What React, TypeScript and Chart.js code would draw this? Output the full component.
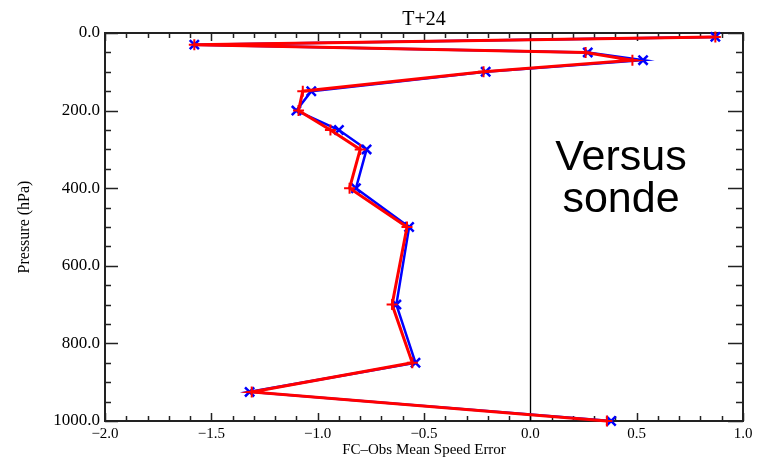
import React, { useEffect, useRef } from 'react';
import { Chart, registerables } from 'chart.js';

Chart.register(...registerables);

// ---- data ----
const pressureLevels = [10, 30, 50, 70, 100, 150, 200, 250, 300, 400, 500, 700, 850, 925, 1000];
const errorBlue = [0.87, -1.58, 0.27, 0.53, -0.21, -1.03, -1.1, -0.9, -0.77, -0.82, -0.57, -0.63, -0.54, -1.32, 0.38];
const errorRed = [0.87, -1.58, 0.26, 0.48, -0.22, -1.07, -1.09, -0.94, -0.8, -0.85, -0.58, -0.65, -0.555, -1.31, 0.36];
const xTickValues = [-2.0, -1.5, -1.0, -0.5, 0.0, 0.5, 1.0];
const yTickValues = [0, 200, 400, 600, 800, 1000];
const chartTitle = 'T+24';
const xAxisTitle = 'FC\u2013Obs Mean Speed Error';
const yAxisTitle = 'Pressure (hPa)';
const noteLines = ['Versus', 'sonde'];

const SERIF = '"Liberation Serif", "DejaVu Serif", serif';
const SANS = '"Liberation Sans", Arial, sans-serif';

const fmtX = (v: number) => {
  const s = Math.abs(v).toFixed(1);
  return v < -1e-9 ? '\u2212' + s : s;
};

const framePlugin = {
  id: 'frameTicks',
  beforeDatasetsDraw(chart: any) {
    const { ctx, chartArea, scales } = chart;
    const { left, right, top, bottom } = chartArea;
    const xs = scales.x;
    const ys = scales.y;
    ctx.save();
    ctx.strokeStyle = '#222';
    ctx.lineWidth = 2;
    ctx.strokeRect(left, top, right - left, bottom - top);
    ctx.lineWidth = 1.5;
    ctx.beginPath();
    const xMin = xTickValues[0];
    const xMax = xTickValues[xTickValues.length - 1];
    const nx = Math.round((xMax - xMin) / 0.1);
    for (let i = 0; i <= nx; i++) {
      const v = xMin + i * 0.1;
      const px = Math.round(xs.getPixelForValue(v)) + 0.5;
      const len = i % 5 === 0 ? 8 : 5;
      ctx.moveTo(px, bottom);
      ctx.lineTo(px, bottom - len);
      ctx.moveTo(px, top);
      ctx.lineTo(px, top + len);
    }
    const yMin = yTickValues[0];
    const yMax = yTickValues[yTickValues.length - 1];
    for (let p = yMin; p <= yMax; p += 50) {
      const py = Math.round(ys.getPixelForValue(p)) + 0.5;
      const major = p % 200 === 0;
      const lenL = major ? 13 : 6;
      const lenR = major ? 15 : 7;
      ctx.moveTo(left, py);
      ctx.lineTo(left + lenL, py);
      ctx.moveTo(right, py);
      ctx.lineTo(right - lenR, py);
    }
    ctx.stroke();
    // zero line
    const zx = Math.round(xs.getPixelForValue(0)) + 0.5;
    ctx.strokeStyle = '#000';
    ctx.lineWidth = 1.3;
    ctx.beginPath();
    ctx.moveTo(zx, top);
    ctx.lineTo(zx, bottom);
    ctx.stroke();
    ctx.restore();
  },
  afterDraw(chart: any) {
    const { ctx, chartArea } = chart;
    const { left, right } = chartArea;
    ctx.save();
    ctx.fillStyle = '#000';
    ctx.textAlign = 'center';
    ctx.textBaseline = 'middle';
    ctx.font = `20px ${SERIF}`;
    ctx.fillText(chartTitle, (left + right) / 2, 20);
    ctx.font = `43px ${SANS}`;
    ctx.textBaseline = 'alphabetic';
    ctx.fillText(noteLines[0], 621, 170);
    ctx.fillText(noteLines[1], 621, 212);
    ctx.restore();
  },
};

export default function App() {
  const ref = useRef<HTMLCanvasElement | null>(null);
  useEffect(() => {
    if (!ref.current) return;
    const chart = new Chart(ref.current, {
      type: 'scatter',
      data: {
        datasets: [
          {
            label: 'red',
            data: pressureLevels.map((p, i) => ({ x: errorRed[i], y: p })),
            showLine: true,
            borderColor: '#ff0000',
            backgroundColor: '#ff0000',
            borderWidth: 3,
            pointStyle: 'cross',
            pointRadius: 5.5,
            pointBorderWidth: 2,
            pointBorderColor: '#ff0000',
            clip: false as any,
          },
          {
            label: 'blue',
            data: pressureLevels.map((p, i) => ({ x: errorBlue[i], y: p })),
            showLine: true,
            borderColor: '#0000ff',
            backgroundColor: '#0000ff',
            borderWidth: 2.5,
            pointStyle: 'crossRot',
            pointRadius: 6.5,
            pointBorderWidth: 2.5,
            pointBorderColor: '#0000ff',
            clip: false as any,
          },
        ],
      },
      options: {
        responsive: false,
        animation: false,
        devicePixelRatio: 1,
        layout: { padding: { top: 33, right: 18, bottom: 0, left: 0 } },
        plugins: {
          legend: { display: false },
          tooltip: { enabled: false },
          title: { display: false },
        },
        scales: {
          x: {
            type: 'linear',
            min: xTickValues[0],
            max: xTickValues[xTickValues.length - 1],
            grid: { display: false, drawTicks: false },
            border: { display: false },
            afterBuildTicks: (s: any) => {
              s.ticks = xTickValues.map((v) => ({ value: v }));
            },
            ticks: {
              padding: 4,
              color: '#000',
              font: { family: SERIF, size: 15 },
              maxRotation: 0,
              callback: (v: any) => fmtX(Number(v)),
            },
            title: {
              display: true,
              text: xAxisTitle,
              color: '#000',
              font: { family: SERIF, size: 15 },
              padding: { top: 0, bottom: 0 },
            },
            afterFit: (s: any) => {
              s.height = 38;
            },
          },
          y: {
            type: 'linear',
            reverse: true,
            min: yTickValues[0],
            max: yTickValues[yTickValues.length - 1],
            grid: { display: false, drawTicks: false },
            border: { display: false },
            afterBuildTicks: (s: any) => {
              s.ticks = yTickValues.map((v) => ({ value: v }));
            },
            ticks: {
              padding: 5,
              color: '#000',
              font: { family: SERIF, size: 17 },
              callback: (v: any) => Number(v).toFixed(1),
            },
            title: {
              display: true,
              text: yAxisTitle,
              color: '#000',
              font: { family: SERIF, size: 16 },
              padding: { top: 15, bottom: 0 },
            },
            afterFit: (s: any) => {
              s.width = 105;
            },
          },
        },
      },
      plugins: [framePlugin],
    });
    return () => chart.destroy();
  }, []);
  return (
    <div style={{ position: 'absolute', left: 0, top: 0, width: 761, height: 459, background: '#fff' }}>
      <canvas ref={ref} width={761} height={459} style={{ display: 'block' }} />
    </div>
  );
}
